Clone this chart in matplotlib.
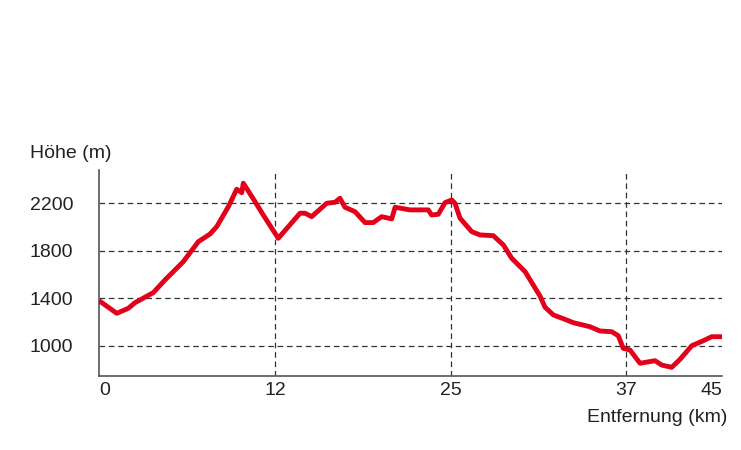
import numpy as np
import matplotlib.pyplot as plt

# elevation profile (km, m)
dist_km = [0.0, 1.21, 2.00, 2.45, 3.70, 4.50, 5.75, 6.77, 7.57, 8.03,
           8.82, 9.39, 9.73, 9.84, 10.64, 11.20, 12.24, 13.85, 14.22, 14.71,
           15.82, 16.43, 16.80, 17.17, 17.91, 18.65, 19.26, 19.88, 20.62, 20.87,
           21.98, 23.32, 23.57, 24.06, 24.56, 25.05, 25.27, 25.62, 26.42, 26.99,
           27.90, 28.59, 29.16, 30.08, 31.10, 31.45, 32.02, 32.82, 33.39, 34.53,
           35.22, 36.02, 36.47, 36.81, 37.33, 38.17, 39.42, 39.98, 40.81, 41.50,
           42.48, 43.44, 44.14, 45.0]
elev_m = [1380, 1273, 1315, 1362, 1447, 1554, 1708, 1876, 1941, 2003,
          2171, 2318, 2289, 2369, 2213, 2101, 1905, 2116, 2116, 2087,
          2200, 2208, 2242, 2166, 2129, 2037, 2037, 2087, 2068, 2166,
          2144, 2144, 2101, 2107, 2205, 2228, 2200, 2074, 1961, 1933,
          1927, 1849, 1737, 1624, 1419, 1324, 1259, 1222, 1194, 1160,
          1124, 1118, 1084, 978, 964, 852, 874, 837, 818, 885,
          1000, 1042, 1076, 1076]

x_ticks = [0, 12, 25, 37, 45]
x_labels = ['0', '12', '25', '37', '45']
y_ticks = [1000, 1400, 1800, 2200]
y_labels = ['1000', '1400', '1800', '2200']

# the printed km axis is not evenly spaced: where each labelled km sits
axis_km = [0, 12, 25, 37, 45]
axis_pos = [0, 176, 352, 527, 623]

knot_km = np.r_[-100, axis_km, 145]
knot_pos = np.r_[-100 * 176 / 12, axis_pos, 623 + 100 * 96 / 8]


def km_to_pos(x):
    return np.interp(np.asarray(x, float), knot_km, knot_pos)


def pos_to_km(p):
    return np.interp(np.asarray(p, float), knot_pos, knot_km)


RED = '#e2001a'
TXT = '#222222'
plt.rcParams['font.family'] = ['Liberation Sans', 'DejaVu Sans']

fig = plt.figure(figsize=(7.41, 4.5), dpi=100)
ax = fig.add_axes([99 / 741, 1 - 376 / 450, 623 / 741, 206 / 450])
ax.set_xscale('function', functions=(km_to_pos, pos_to_km))

ax.plot(dist_km, elev_m, color=RED, lw=3.5, solid_joinstyle='round',
        solid_capstyle='butt', zorder=3)

ax.set_xlim(0, 45)
ax.set_ylim(745, 2480)
ax.set_xticks(x_ticks)
ax.set_xticklabels(x_labels)
ax.set_yticks(y_ticks)
ax.set_yticklabels(y_labels)
ax.minorticks_off()

ax.grid(True, color='#333333', linestyle=(0, (4.5, 3)), linewidth=0.9)
ax.set_axisbelow(True)
xgrid = ax.get_xgridlines()
xgrid[0].set_visible(False)
xgrid[-1].set_visible(False)

for side in ['top', 'right']:
    ax.spines[side].set_visible(False)
for side in ['left', 'bottom']:
    ax.spines[side].set_color('#555555')
    ax.spines[side].set_linewidth(1.2)

ax.tick_params(axis='both', length=0, labelsize=14, labelcolor=TXT)
ax.tick_params(axis='x', pad=4)
ax.tick_params(axis='y', pad=49.7)
for lab in ax.get_yticklabels():
    lab.set_ha('left')
xl = ax.get_xticklabels()
xl[0].set_ha('left')
xl[-1].set_ha('right')

fig.text(30 / 741, 1 - 153 / 450, 'Höhe (m)', fontsize=14, color=TXT,
         ha='left', va='center')
fig.text(727 / 741, 1 - 417 / 450, 'Entfernung (km)', fontsize=14, color=TXT,
         ha='right', va='center')

fig.savefig('out.png', dpi=100, facecolor='white')
